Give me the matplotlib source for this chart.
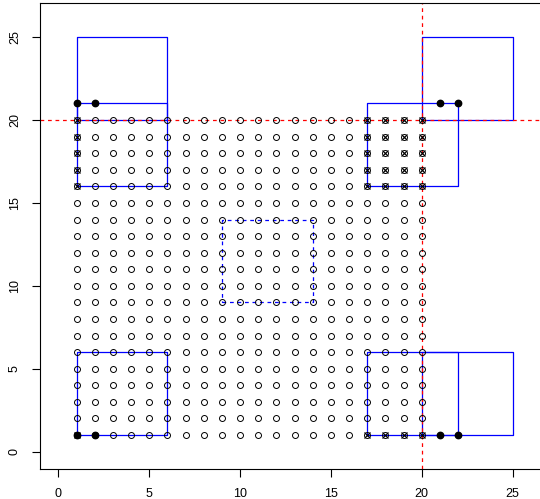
import numpy as np
import matplotlib
matplotlib.use("Agg")
import matplotlib.pyplot as plt

# grid of lattice points
grid_x = list(range(1, 21))
grid_y = list(range(1, 21))

# points marked with a cross
cross_x = [1, 1, 1, 1, 1, 1,
           17, 18, 19, 20, 17, 18, 19, 20, 17, 18, 19, 20, 17, 18, 19, 20, 17, 18, 19, 20,
           17, 18, 19, 20]
cross_y = [1, 16, 17, 18, 19, 20,
           16, 16, 16, 16, 17, 17, 17, 17, 18, 18, 18, 18, 19, 19, 19, 19, 20, 20, 20, 20,
           1, 1, 1, 1]

# filled points
fill_x = [1, 2, 21, 22, 1, 2, 21, 22]
fill_y = [21, 21, 21, 21, 1, 1, 1, 1]

# solid rectangles (x0, x1, y0, y1)
rects = [(1, 6, 20, 25), (1, 6, 16, 21), (20, 25, 20, 25), (17, 22, 16, 21),
         (1, 6, 1, 6), (17, 22, 1, 6), (20, 25, 1, 6)]
# dashed rectangle
dash_rect = (9, 14, 9, 14)

hline_y = 20
vline_x = 20

W, H = 540, 499
fig = plt.figure(figsize=(W / 100, H / 100), dpi=100)
ax = fig.add_axes([39.6 / W, (H - 468.9) / H, (549.6 - 39.6) / W, (468.9 - 3.3) / H])

gx, gy = np.meshgrid(grid_x, grid_y)
ax.plot(gx.ravel(), gy.ravel(), 'o', mfc='none', mec='black', ms=4.3, mew=0.7, zorder=3)
ax.plot(cross_x, cross_y, 'x', color='black', ms=3.8, mew=0.85, zorder=3)
ax.plot(fill_x, fill_y, 'o', color='black', ms=4.6, zorder=4)

for x0, x1, y0, y1 in rects:
    ax.plot([x0, x1, x1, x0, x0], [y0, y0, y1, y1, y0], color='blue', lw=0.9, zorder=2)
x0, x1, y0, y1 = dash_rect
ax.plot([x0, x1, x1, x0, x0], [y0, y0, y1, y1, y0], color='blue', lw=0.9,
        dashes=(3, 3), zorder=2)

ax.axhline(hline_y, color='red', lw=0.9, dashes=(3, 3), zorder=2)
ax.axvline(vline_x, color='red', lw=0.9, dashes=(3, 3), zorder=2)

ax.set_xlim(-1.04, 27.04)
ax.set_ylim(-1.04, 27.04)
ticks = [0, 5, 10, 15, 20, 25]
ax.set_xticks(ticks)
ax.set_yticks(ticks)
ax.set_xticklabels([str(t) for t in ticks], fontfamily='Liberation Sans', fontsize=9)
ax.set_yticklabels([str(t) for t in ticks], fontfamily='Liberation Sans', fontsize=9,
                   rotation=90, va='center')
ax.tick_params(length=5.5, width=0.8, pad=8)
for s in ax.spines.values():
    s.set_linewidth(0.8)

fig.savefig("out.png", dpi=100)
